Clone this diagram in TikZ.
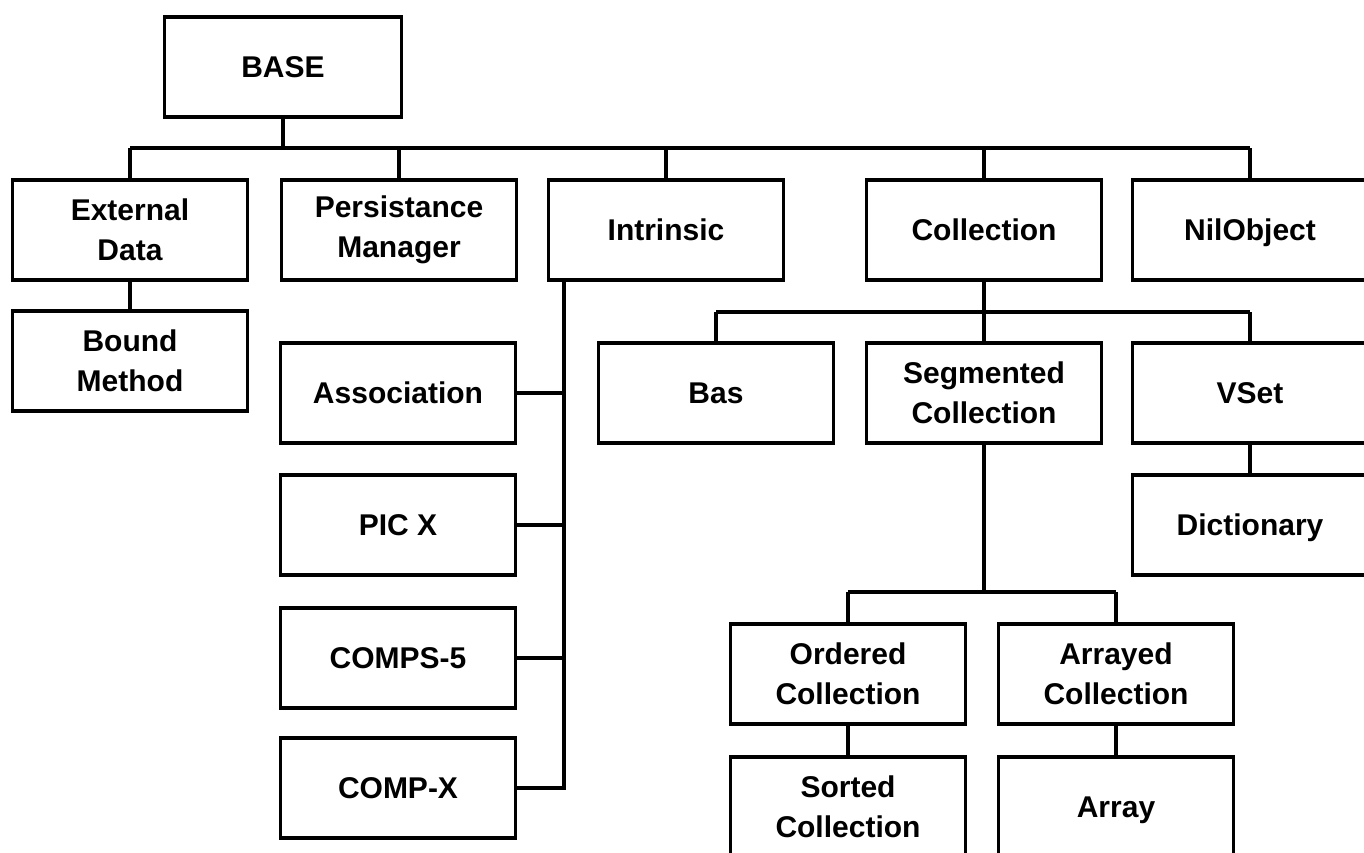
\documentclass[tikz,border=0pt]{standalone}
\usepackage{fontspec}
\setmainfont{Liberation Sans}
\begin{document}
\begin{tikzpicture}[x=1pt,y=1pt,
  box/.style={draw, line width=3.2pt, minimum width=235pt, minimum height=100pt,
    inner sep=0pt, align=center, font=\bfseries\fontsize{30}{40}\selectfont},
  one/.style={text height=21pt, text depth=0pt},
  link/.style={line width=3.2pt}]
\useasboundingbox (0,0) rectangle (1364,-852);
% row 1
\node[box, one, minimum width=237pt] (base) at (283,-67) {BASE};
% row 2
\node[box] (ext)  at (130,-230) {External\\Data};
\node[box] (per)  at (399,-230) {Persistance\\Manager};
\node[box, one] (intr) at (666,-230) {Intrinsic};
\node[box, one] (coll) at (984,-230) {Collection};
\node[box, one] (nil)  at (1250,-230) {NilObject};
% row 3
\node[box] (bound) at (130,-361) {Bound\\Method};
\node[box, one] (assoc) at (398,-393) {Association};
\node[box, one] (bas)   at (716,-393) {Bas};
\node[box] (seg)   at (984,-393) {Segmented\\Collection};
\node[box, one] (vset)  at (1250,-393) {VSet};
% lower rows
\node[box, one] (picx)  at (398,-525) {PIC X};
\node[box, one] (comps) at (398,-658) {COMPS-5};
\node[box, one] (compx) at (398,-788) {COMP-X};
\node[box, one] (dict)  at (1250,-525) {Dictionary};
\node[box] (ord)   at (848,-674) {Ordered\\Collection};
\node[box] (arr)   at (1116,-674) {Arrayed\\Collection};
\node[box] (sort)  at (848,-807) {Sorted\\Collection};
\node[box, one] (array) at (1116,-807) {Array};
% bus coordinates
\coordinate (bus1) at (283,-148);
\coordinate (bus2) at (984,-312);
\coordinate (bus3) at (984,-592);
\coordinate (tx)   at (564,0);
% BASE tree
\draw[link] (base.south) -- (bus1);
\draw[link] (ext.north |- bus1) -- (nil.north |- bus1);
\foreach \n in {ext,per,intr,coll,nil} \draw[link] (\n.north) -- (\n.north |- bus1);
\draw[link] (ext.south) -- (bound.north);
% Intrinsic trunk
\draw[link] (intr.south -| tx) |- (compx.east);
\foreach \n in {assoc,picx,comps} \draw[link] (\n.east) -- (\n.east -| tx);
% Collection tree
\draw[link] (coll.south) -- (seg.north);
\draw[link] (bas.north |- bus2) -- (vset.north |- bus2);
\foreach \n in {bas,vset} \draw[link] (\n.north) -- (\n.north |- bus2);
\draw[link] (vset.south) -- (dict.north);
% Segmented tree
\draw[link] (seg.south) -- (bus3);
\draw[link] (ord.north |- bus3) -- (arr.north |- bus3);
\foreach \n in {ord,arr} \draw[link] (\n.north) -- (\n.north |- bus3);
\draw[link] (ord.south) -- (sort.north);
\draw[link] (arr.south) -- (array.north);
\end{tikzpicture}
\end{document}
